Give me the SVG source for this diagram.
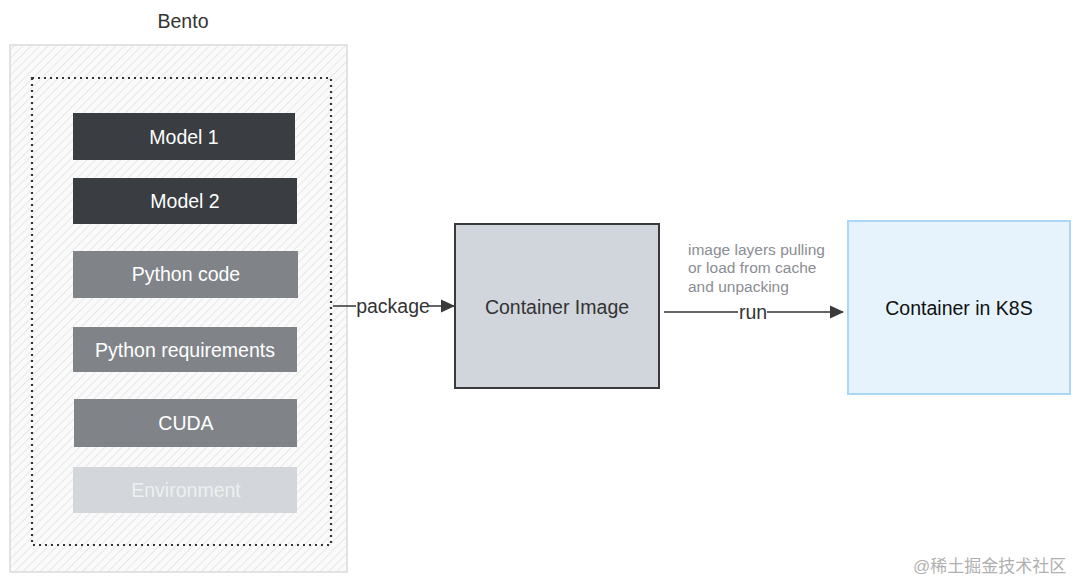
<svg xmlns="http://www.w3.org/2000/svg" width="1080" height="582" viewBox="0 0 1080 582">
<defs>
<pattern id="hatch" patternUnits="userSpaceOnUse" width="6" height="6" patternTransform="rotate(45)">
<rect width="6" height="6" fill="#fafafa"/>
<line x1="0" y1="0" x2="0" y2="6" stroke="#dcdee1" stroke-width="1.3"/>
</pattern>
<marker id="arr2" markerWidth="14" markerHeight="14" refX="13" refY="7" orient="auto" markerUnits="userSpaceOnUse">
<path d="M0,0.5 L14,7 L0,13.5 Z" fill="#3a3a3a"/>
</marker>
</defs>
<style>
text{font-family:"Liberation Sans",Arial,sans-serif}
.lbl{font-size:19.5px;text-anchor:middle}
.dark{fill:#3a3d41}
.mid{fill:#808489}
.light{fill:#d3d6da}
.w{fill:#ffffff}
.edge{stroke:#333;stroke-width:1.5;fill:none}
.note{font-size:15.5px;fill:#8a8d92}
</style>
<rect width="1080" height="582" fill="#ffffff"/>
<g id="bento">
<text x="183" y="28" class="lbl" fill="#333" font-size="18">Bento</text>
<rect x="10" y="45" width="337" height="527" fill="url(#hatch)" stroke="#d8dadd" stroke-width="1.5"/>
<rect x="32" y="78" width="299" height="467" fill="none" stroke="#333" stroke-width="2.2" stroke-dasharray="2,4"/>
</g>
<g id="model1"><rect x="73" y="113" width="222" height="47" class="dark"/><text x="184" y="144" class="lbl w">Model 1</text></g>
<g id="model2"><rect x="73" y="178" width="224" height="46" class="dark"/><text x="185" y="208" class="lbl w">Model 2</text></g>
<g id="pycode"><rect x="73" y="251" width="225" height="47" class="mid"/><text x="186" y="281" class="lbl w">Python code</text></g>
<g id="pyreq"><rect x="73" y="327" width="224" height="45" class="mid"/><text x="185" y="357" class="lbl w">Python requirements</text></g>
<g id="cuda"><rect x="74" y="399" width="223" height="48" class="mid"/><text x="186" y="430" class="lbl w">CUDA</text></g>
<g id="env"><rect x="73" y="467" width="224" height="46" class="light"/><text x="186" y="497" class="lbl" fill="#eef0f2">Environment</text></g>
<g id="containerImage"><rect x="455" y="224" width="204" height="164" fill="#d1d5dc" stroke="#3a3a3a" stroke-width="2"/><text x="557" y="314" class="lbl" fill="#333">Container Image</text></g>
<g id="k8s"><rect x="848" y="221" width="222" height="173" fill="#e6f3fc" stroke="#a9d8f5" stroke-width="2"/><text x="959" y="315" class="lbl" fill="#111">Container in K8S</text></g>
<g id="connectors">
<line x1="333" y1="306" x2="356" y2="306" class="edge"/>
<line x1="429" y1="306" x2="454" y2="306" class="edge" marker-end="url(#arr2)"/>
<text x="393" y="313" class="lbl" fill="#333">package</text>
<line x1="664" y1="312" x2="738" y2="312" class="edge"/>
<line x1="767" y1="312" x2="843" y2="312" class="edge" marker-end="url(#arr2)"/>
<text x="753" y="319" class="lbl" fill="#333">run</text>
<text x="688" y="255" class="note">image layers pulling</text>
<text x="688" y="273" class="note">or load from cache</text>
<text x="688" y="292" class="note">and unpacking</text>
</g>
<text x="913" y="572" font-size="17" fill="#b0b0b0" style="font-family:'Liberation Sans','Noto Sans CJK SC',sans-serif">@稀土掘金技术社区</text>
</svg>
